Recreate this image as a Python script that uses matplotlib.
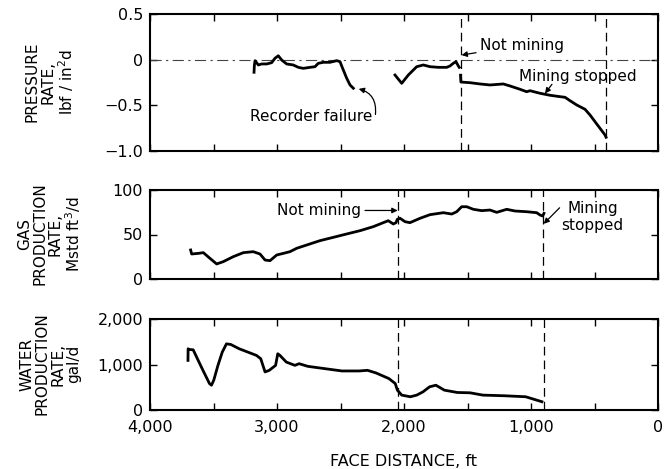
import matplotlib
matplotlib.use("Agg")
import matplotlib.pyplot as plt
import numpy as np

# ---------------- data ----------------
# Pressure rate (lbf/in^2 d) vs face distance (ft) - three segments
p1_dist = [3181, 3178, 3173, 3147, 3121, 3081, 3042, 3016, 2990, 2963, 2924, 2872, 2832,
           2793, 2740, 2701, 2675, 2635, 2583, 2530, 2504, 2478, 2451, 2425, 2399]
p1_val = [-0.138, -0.06, -0.011, -0.058, -0.047, -0.047, -0.033, 0.015, 0.043, -0.004, -0.047,
          -0.058, -0.084, -0.095, -0.084, -0.077, -0.040, -0.029, -0.029, -0.011, -0.022,
          -0.113, -0.204, -0.277, -0.313]
p2_dist = [2071, 2018, 1966, 1900, 1848, 1795, 1730, 1664, 1638, 1612, 1591, 1572, 1565]
p2_val = [-0.168, -0.259, -0.168, -0.077, -0.058, -0.077, -0.084, -0.084, -0.069, -0.040,
          -0.022, -0.069, -0.084]
p3_dist = [1555, 1552, 1480, 1402, 1323, 1218, 1165, 1087, 1034, 1008, 929, 850, 772, 732,
           693, 640, 575, 535, 496, 457, 417, 409]
p3_val = [-0.17, -0.245, -0.252, -0.266, -0.277, -0.266, -0.288, -0.324, -0.351, -0.340,
          -0.368, -0.390, -0.405, -0.412, -0.449, -0.496, -0.543, -0.606, -0.679, -0.751,
          -0.825, -0.850]

# Gas production rate (Mstd ft3/d)
gas_dist = [3680, 3672, 3620, 3580, 3528, 3475, 3423, 3344, 3265, 3187, 3134, 3094, 3055,
            3002, 2950, 2898, 2845, 2766, 2661, 2557, 2451, 2346, 2242, 2163, 2124, 2084,
            2063, 2053, 2031, 1992, 1953, 1874, 1795, 1690, 1624, 1585, 1546, 1506, 1454,
            1388, 1323, 1270, 1191, 1126, 1034, 955, 929, 908, 898]
gas_val = [32.6, 28.1, 28.8, 29.6, 23.2, 16.9, 19.5, 25.1, 29.6, 30.7, 28.1, 21.3, 20.6,
           27.0, 28.8, 30.7, 34.5, 38.2, 43.1, 46.8, 50.6, 54.3, 58.8, 63.3, 65.5, 61.8,
           63.3, 67.0, 68.2, 64.4, 63.3, 68.2, 72.3, 74.5, 73.0, 75.6, 81.2, 81.2, 78.3,
           76.8, 77.5, 74.9, 78.3, 76.4, 75.6, 74.5, 71.9, 70.8, 73.8]

# Water production rate (gal/d)
water_dist = [3701, 3700, 3690, 3660, 3633, 3583, 3532, 3516, 3498, 3465, 3431, 3398, 3364,
              3297, 3229, 3162, 3128, 3094, 3061, 3011, 2994, 2977, 2927, 2859, 2826, 2758,
              2624, 2489, 2354, 2287, 2220, 2119, 2069, 2052, 2018, 1950, 1900, 1850, 1799,
              1749, 1682, 1580, 1480, 1379, 1210, 1042, 914]
water_val = [1090, 1345, 1330, 1323, 1163, 872, 582, 545, 654, 981, 1272, 1454, 1440, 1345,
             1272, 1200, 1127, 836, 872, 981, 1236, 1200, 1054, 981, 1018, 960, 909, 858, 858,
             872, 814, 691, 582, 436, 327, 291, 327, 400, 509, 545, 436, 385, 378, 327, 313,
             291, 182]

# Event markers (face distance, ft)
pressure_events = [1555, 410]
gas_events = [2045, 905]
water_events = [2050, 900]

x_ticks = [4000, 3000, 2000, 1000, 0]
x_ticklabels = ["4,000", "3,000", "2,000", "1,000", "0"]
p_ticks = [0.5, 0, -0.5, -1.0]
p_ticklabels = ["0.5", "0", "\u22120.5", "\u22121.0"]
g_ticks = [0, 50, 100]
g_ticklabels = ["0", "50", "100"]
w_ticks = [0, 1000, 2000]
w_ticklabels = ["0", "1,000", "2,000"]

# ---------------- figure ----------------
plt.rcParams['font.family'] = ['DejaVu Sans']
W, H = 667, 469
fig = plt.figure(figsize=(W / 100, H / 100), dpi=100)

def ax_rect(top, bottom, left=150, right=658):
    return [left / W, 1 - bottom / H, (right - left) / W, (bottom - top) / H]

ax1 = fig.add_axes(ax_rect(14, 151))
ax2 = fig.add_axes(ax_rect(190, 279))
ax3 = fig.add_axes(ax_rect(319, 410))

lw_curve = 2.0
fs_tick = 11.5
fs_note = 11
arrow_kw = dict(arrowstyle='-|>', color='black', lw=0.9, mutation_scale=8)

for ax in (ax1, ax2, ax3):
    ax.set_xlim(4000, 0)
    for s in ax.spines.values():
        s.set_linewidth(1.5)
    ax.set_xticks(np.arange(500, 4000, 500), minor=True)
    ax.set_xticks(x_ticks)
    ax.tick_params(axis='both', which='both', direction='in', top=True, right=True,
                   length=5, width=1.0, labelsize=fs_tick, pad=5)
    ax.tick_params(axis='x', which='major', pad=7)

for ax in (ax1, ax2):
    ax.tick_params(axis='x', which='both', labelbottom=False)
ax3.set_xticklabels(x_ticklabels)

# --- pressure ---
ax1.set_ylim(-1.0, 0.5)
ax1.set_yticks(p_ticks)
ax1.set_yticklabels(p_ticklabels)
ax1.axhline(0, color='#444444', lw=0.8, ls=(0, (10, 4, 2, 4)))
ax1.plot(p1_dist, p1_val, color='black', lw=lw_curve)
ax1.plot(p2_dist, p2_val, color='black', lw=lw_curve)
ax1.plot(p3_dist, p3_val, color='black', lw=lw_curve)
for d in pressure_events:
    ax1.axvline(d, color='black', lw=0.9, ls=(0, (7, 4)))

ax1.text(2732, -0.617, "Recorder failure", fontsize=fs_note, ha='center', va='center')
ax1.annotate("", xy=(2378, -0.313), xytext=(2225, -0.60),
             arrowprops=dict(**arrow_kw, connectionstyle='arc3,rad=0.45',
                             shrinkA=0, shrinkB=2))
ax1.annotate("Not mining", xy=(1547, 0.05), xytext=(1400, 0.16), fontsize=fs_note,
             ha='left', va='center',
             arrowprops=dict(**arrow_kw, shrinkA=1, shrinkB=0))
ax1.text(630, -0.18, "Mining stopped", fontsize=fs_note, ha='center', va='center')
ax1.annotate("", xy=(890, -0.37), xytext=(835, -0.27),
             arrowprops=dict(**arrow_kw, shrinkA=0, shrinkB=0))

# --- gas ---
ax2.set_ylim(0, 100)
ax2.set_yticks(g_ticks)
ax2.set_yticklabels(g_ticklabels)
ax2.plot(gas_dist, gas_val, color='black', lw=lw_curve)
for d in gas_events:
    ax2.axvline(d, color='black', lw=0.9, ls=(0, (7, 4)))
ax2.annotate("Not mining", xy=(2050, 77), xytext=(2340, 77), fontsize=fs_note,
             ha='right', va='center',
             arrowprops=dict(**arrow_kw, shrinkA=1, shrinkB=0))
ax2.text(515, 70, "Mining\nstopped", fontsize=fs_note, ha='center', va='center',
         multialignment='center')
ax2.annotate("", xy=(900, 62), xytext=(775, 80),
             arrowprops=dict(**arrow_kw, shrinkA=0, shrinkB=0))

# --- water ---
ax3.set_ylim(0, 2000)
ax3.set_yticks(w_ticks)
ax3.set_yticklabels(w_ticklabels)
ax3.plot(water_dist, water_val, color='black', lw=lw_curve)
for d in water_events:
    ax3.axvline(d, color='black', lw=0.9, ls=(0, (7, 4)))

ax3.set_xlabel("FACE DISTANCE, ft", fontsize=fs_note + 0.5, labelpad=14)

# --- y labels ---
def ylabel(text, ycenter):
    fig.text(50 / W, 1 - ycenter / H, text, rotation=90, ha='center', va='center',
             multialignment='center', fontsize=fs_note, linespacing=1.05)

ylabel("PRESSURE\nRATE,\nlbf / in$^2$d", 82)
ylabel("GAS\nPRODUCTION\nRATE,\nMstd ft$^3$/d", 234)
ylabel("WATER\nPRODUCTION\nRATE,\ngal/d", 364)

fig.savefig("out.png", dpi=100)
